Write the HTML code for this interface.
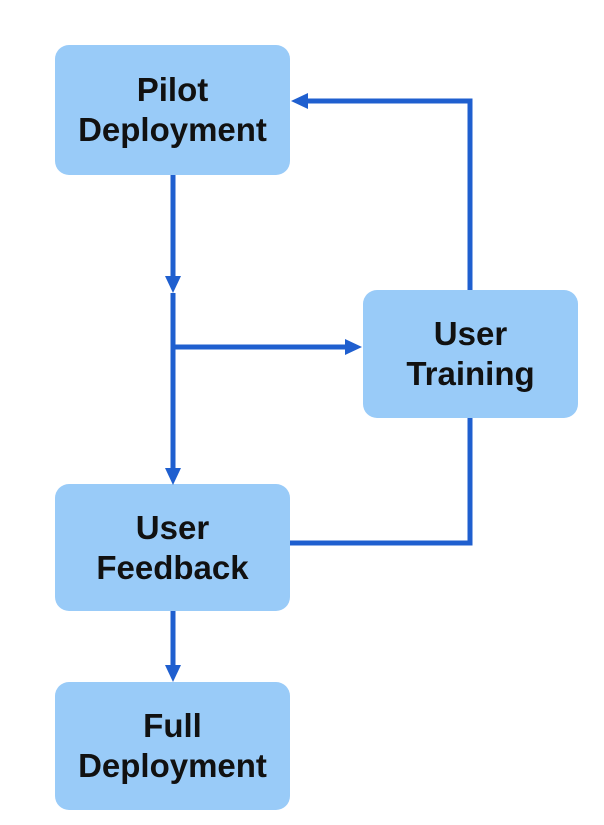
<!DOCTYPE html>
<html><head><style>
body{margin:0;background:#fff;width:604px;height:825px;overflow:hidden;position:relative;font-family:"Liberation Sans","DejaVu Sans",sans-serif;}
.b{position:absolute;background:#99cbf8;border-radius:14px;display:flex;align-items:center;justify-content:center;text-align:center;font-size:33px;line-height:40px;color:#111;font-weight:bold;}
svg{position:absolute;left:0;top:0}
</style></head><body>
<div class="b" style="left:55px;top:45px;width:235px;height:130px">Pilot<br>Deployment</div>
<div class="b" style="left:363px;top:290px;width:215px;height:128px">User<br>Training</div>
<div class="b" style="left:55px;top:484px;width:235px;height:127px">User<br>Feedback</div>
<div class="b" style="left:55px;top:682px;width:235px;height:128px">Full<br>Deployment</div>
<svg width="604" height="825">
<g stroke="#1f5fcf" stroke-width="5" fill="none">
<line x1="173" y1="175" x2="173" y2="278"/>
<line x1="173" y1="293" x2="173" y2="470"/>
<line x1="173" y1="347" x2="348" y2="347"/>
<polyline points="470,290 470,101 306,101"/>
<polyline points="470,418 470,543 290,543"/>
<line x1="173" y1="611" x2="173" y2="668"/>
</g>
<g fill="#1f5fcf">
<polygon points="165,276 181,276 173,293"/>
<polygon points="165,468 181,468 173,485"/>
<polygon points="345,339 345,355 362,347"/>
<polygon points="308,93 308,109 291,101"/>
<polygon points="165,665 181,665 173,682"/>
</g>
</svg>
</body></html>
